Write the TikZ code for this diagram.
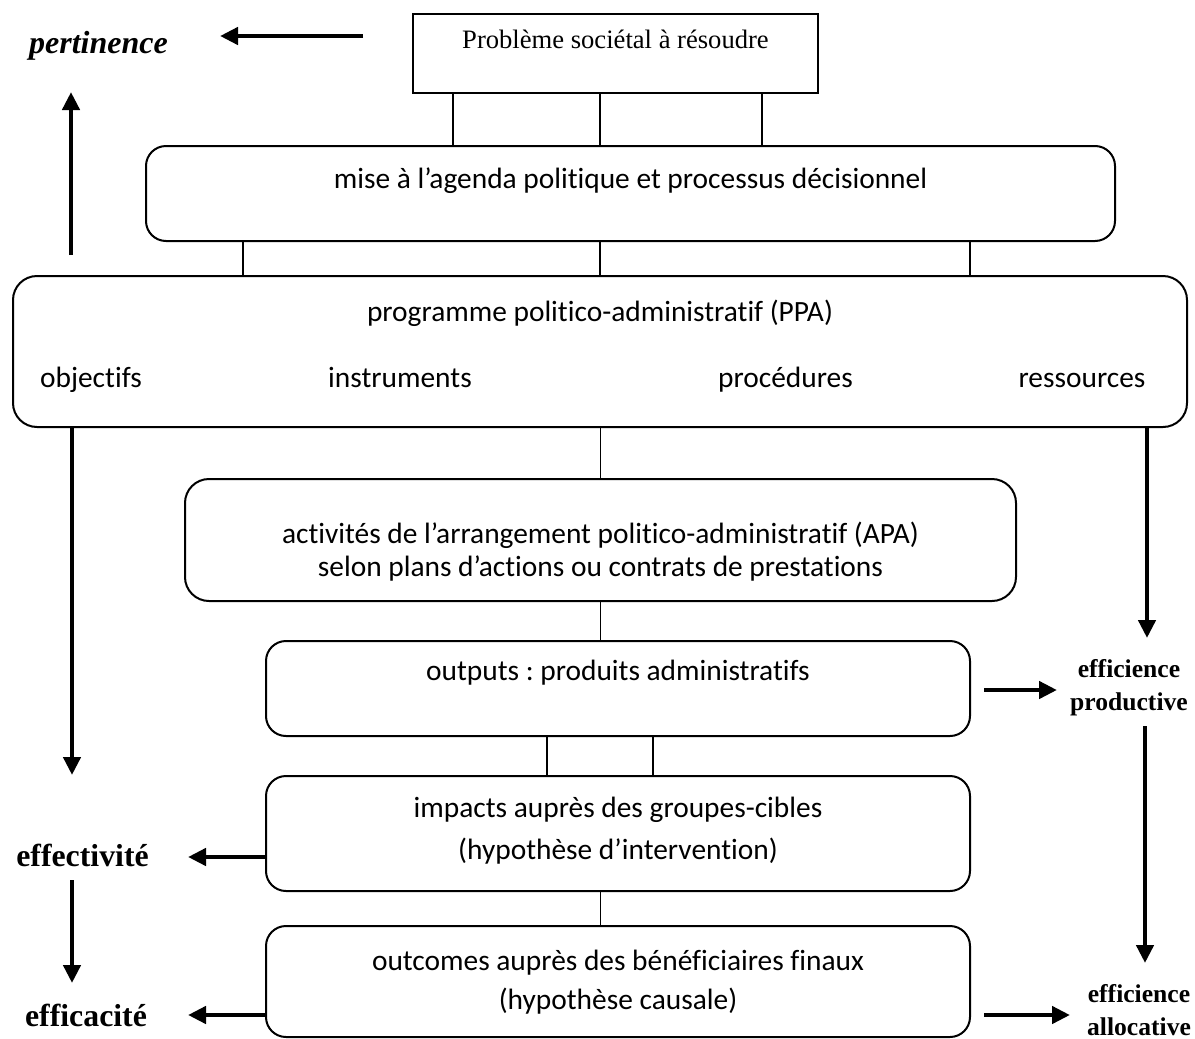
\documentclass[tikz,border=0pt]{standalone}
\usepackage{fontspec}
\setmainfont{Liberation Serif}
\newfontfamily\boxfont{Carlito}[Ligatures=NoCommon]
\usetikzlibrary{arrows.meta, calc}
\frenchspacing

\begin{document}
\begin{tikzpicture}[
        x=0.5pt, y=-0.5pt,
        box/.style={draw=black, line width=1pt, rounded corners=10pt, inner sep=0pt, anchor=north, align=center, font=\boxfont\fontsize{14.7}{16.5}\selectfont},
        item/.style={anchor=base, inner sep=0pt, font=\boxfont\fontsize{14.7}{16.5}\selectfont},
        link/.style={line width=0.75pt},
        bigarrow/.style={line width=2.2pt, -{Triangle[length=9pt, width=8.5pt]}},
        measure/.style={font=\bfseries\fontsize{15.9}{19}\selectfont},
        subvalue/.style={align=center, font=\bfseries\fontsize{12.8}{16.5}\selectfont}
    ]
        \useasboundingbox (0,0) rectangle (1195,1039);

        % Boites
        \node[box, rounded corners=0pt, minimum width=202.5pt, text height=17pt, text depth=22.5pt, font=\fontsize{13.3}{16}\selectfont] (prob) at (615.5,13) {Problème sociétal à résoudre};
        \node[box, minimum width=484.5pt, text height=21pt, text depth=26.5pt] (mise) at (630.5,145) {mise à l’agenda politique et processus décisionnel};
        \node[box, rounded corners=12pt, minimum width=587pt, text height=22.5pt, text depth=53pt] (ppa) at (600,275) {programme politico-administratif (PPA)};
        \node[item] (obj) at (91,387) {objectifs};
        \node[item] (instr) at (400,387) {instruments};
        \node[item] (proc) at (785.5,387) {procédures};
        \node[item] (ress) at (1082,387) {ressources};
        \node[box, rounded corners=12pt, minimum width=415.5pt, text height=48.5pt, text depth=12.5pt] (apa) at (600.5,478) {activités de l’arrangement politico-administratif (APA)\\selon plans d’actions ou contrats de prestations};
        \node[box, minimum width=352pt, text height=19.5pt, text depth=28pt] (outp) at (618,640) {outputs : produits administratifs};
        \node[box, minimum width=352pt, text height=41.5pt, text depth=16pt] (imp) at (618,775) {impacts auprès des groupes-cibles\\[4.5pt](hypothèse d’intervention)};
        \node[box, minimum width=352pt, text height=41.5pt, text depth=14pt] (outc) at (618,925) {outcomes auprès des bénéficiaires finaux\\[3pt](hypothèse causale)};

        % Liaisons
        \foreach \x in {453,600,762} {
            \draw[link] (\x,0 |- prob.south) -- (\x,0 |- mise.north);
        }
        \foreach \x in {243,600,970} {
            \draw[link] (\x,0 |- mise.south) -- (\x,0 |- ppa.north);
        }
        \draw[link] (ppa.south -| apa.north) -- (apa.north);
        \draw[link] (apa.south) -- (apa.south |- outp.north);
        \foreach \x in {547,653} {
            \draw[link] (\x,0 |- outp.south) -- (\x,0 |- imp.north);
        }
        \draw[link] (imp.south -| apa.south) -- (apa.south |- outc.north);

        % Criteres
        \node[font=\bfseries\itshape\fontsize{16}{19}\selectfont] (pert) at (98.5,46) {pertinence};
        \node[measure] (eff) at (82.5,855) {effectivité};
        \node[measure] (effic) at (86,1015) {efficacité};
        \node[subvalue] (prod) at (1129,688) {efficience\\productive};
        \node[subvalue] (alloc) at (1139,1010) {efficience\\allocative};

        % Fleches
        \coordinate (pertFrom) at (363,36);
        \coordinate (pertTo) at (220,36);
        \coordinate (upFrom) at (71,255);
        \coordinate (upTo) at (71,92);
        \coordinate (effTop) at (72,775);
        \coordinate (effArr) at (188,857);
        \coordinate (downFrom) at (72,880);
        \coordinate (downTo) at (72,983);
        \coordinate (efficArr) at (188,1015);
        \coordinate (prodTop) at (1147,638);
        \coordinate (prodArr) at (1057,690);
        \coordinate (allocFrom) at (1145,726);
        \coordinate (allocTo) at (1145,963);
        \coordinate (allocArr) at (1070,1015);

        \draw[bigarrow] (pertFrom) -- (pertTo);
        \draw[bigarrow] (upFrom) -- (upTo);
        \draw[bigarrow] (ppa.south -| effTop) -- (effTop);
        \draw[bigarrow] (imp.west |- effArr) -- (effArr);
        \draw[bigarrow] (downFrom) -- (downTo);
        \draw[bigarrow] (outc.west |- efficArr) -- (efficArr);
        \draw[bigarrow] (ppa.south -| prodTop) -- (prodTop);
        \draw[bigarrow] ([xshift=6.5pt]outp.east |- prodArr) -- (prodArr);
        \draw[bigarrow] (allocFrom) -- (allocTo);
        \draw[bigarrow] ([xshift=6.5pt]outc.east |- allocArr) -- (allocArr);

    \end{tikzpicture}
\end{document}
